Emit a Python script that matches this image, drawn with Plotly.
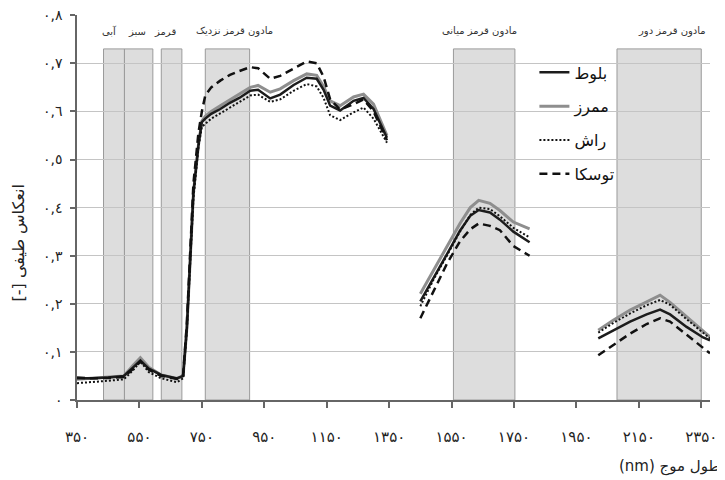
import plotly.graph_objects as go

# ---------------- data ----------------
# wavelength samples (nm) for the three measured segments
wl_vis_nir = [350, 400, 450, 500, 530, 553, 580, 620, 670, 690, 702, 723, 739, 750,
              761, 780, 809, 840, 870, 905, 930, 969, 1001, 1044, 1086, 1118, 1140,
              1161, 1193, 1236, 1268, 1300, 1343]
wl_swir1 = [1450, 1492, 1535, 1577, 1610, 1637, 1673, 1705, 1748, 1800]
wl_swir2 = [2020, 2068, 2122, 2175, 2218, 2250, 2303, 2356, 2378]

species = ["بلوط", "ممرز", "راش", "توسکا"]

oak_1 = [0.045, 0.045, 0.047, 0.050, 0.068, 0.082, 0.065, 0.052, 0.045, 0.050, 0.150, 0.430, 0.530, 0.578,
         0.585, 0.595, 0.605, 0.618, 0.628, 0.643, 0.645, 0.627, 0.635, 0.655, 0.670, 0.668, 0.645,
         0.612, 0.602, 0.622, 0.628, 0.605, 0.545]
oak_2 = [0.205, 0.255, 0.303, 0.352, 0.383, 0.395, 0.390, 0.375, 0.350, 0.328]
oak_3 = [0.128, 0.145, 0.163, 0.178, 0.188, 0.178, 0.152, 0.130, 0.124]

hornbeam_1 = [0.043, 0.045, 0.047, 0.050, 0.072, 0.088, 0.068, 0.052, 0.045, 0.050, 0.150, 0.430, 0.530, 0.580,
              0.590, 0.600, 0.612, 0.624, 0.635, 0.650, 0.654, 0.640, 0.647, 0.664, 0.678, 0.675, 0.652,
              0.622, 0.612, 0.630, 0.636, 0.615, 0.550]
hornbeam_2 = [0.221, 0.270, 0.318, 0.367, 0.400, 0.415, 0.409, 0.394, 0.370, 0.356]
hornbeam_3 = [0.145, 0.166, 0.187, 0.204, 0.218, 0.203, 0.173, 0.145, 0.131]

beech_1 = [0.035, 0.037, 0.040, 0.043, 0.062, 0.080, 0.058, 0.045, 0.037, 0.045, 0.145, 0.420, 0.525, 0.568,
           0.575, 0.585, 0.596, 0.608, 0.618, 0.633, 0.635, 0.620, 0.625, 0.643, 0.657, 0.652, 0.628,
           0.592, 0.582, 0.598, 0.608, 0.585, 0.535]
beech_2 = [0.195, 0.250, 0.300, 0.350, 0.385, 0.400, 0.397, 0.382, 0.358, 0.338]
beech_3 = [0.140, 0.160, 0.180, 0.197, 0.208, 0.198, 0.168, 0.140, 0.128]

alder_1 = [0.047, 0.045, 0.046, 0.048, 0.065, 0.080, 0.063, 0.050, 0.044, 0.052, 0.160, 0.450, 0.555, 0.600,
           0.633, 0.650, 0.664, 0.676, 0.684, 0.692, 0.690, 0.668, 0.674, 0.690, 0.704, 0.700, 0.672,
           0.625, 0.604, 0.615, 0.625, 0.600, 0.540]
alder_2 = [0.170, 0.225, 0.283, 0.330, 0.355, 0.367, 0.362, 0.353, 0.320, 0.300]
alder_3 = [0.093, 0.114, 0.138, 0.158, 0.170, 0.163, 0.135, 0.108, 0.097]

# spectral bands (nm)
band_names = ["آبی", "سبز", "قرمز", "مادون قرمز نزدیک", "مادون قرمز میانی", "مادون قرمز دور"]
band_start = [435, 502, 620, 761, 1556, 2080]
band_end = [502, 593, 686, 903, 1753, 2350]
band_top = 0.73

x_tickvals = [350, 550, 750, 950, 1150, 1350, 1550, 1750, 1950, 2150, 2350]
x_ticktext = ["۳۵۰", "۵۵۰", "۷۵۰", "۹۵۰", "۱۱۵۰", "۱۳۵۰", "۱۵۵۰", "۱۷۵۰", "۱۹۵۰", "۲۱۵۰", "۲۳۵۰"]
y_tickvals = [0, 0.1, 0.2, 0.3, 0.4, 0.5, 0.6, 0.7, 0.8]
y_ticktext = ["٠", "٠,١", "٠,٢", "٠,٣", "٠,٤", "٠,٥", "٠,٦", "٠,٧", "٠,٨"]


def joined(a, b, c):
    return list(a) + [None] + list(b) + [None] + list(c)


x_all = joined(wl_vis_nir, wl_swir1, wl_swir2)
series = [
    joined(oak_1, oak_2, oak_3),
    joined(hornbeam_1, hornbeam_2, hornbeam_3),
    joined(beech_1, beech_2, beech_3),
    joined(alder_1, alder_2, alder_3),
]

styles = [
    dict(color="#1c1c1c", width=2.5, dash="solid"),
    dict(color="#8e8e8e", width=3, dash="solid"),
    dict(color="#111111", width=2, dash="2px,2px"),
    dict(color="#111111", width=2.5, dash="8px,5px"),
]

FONT = "DejaVu Sans"

fig = go.Figure()
draw_order = [1, 0, 2, 3]
for i in draw_order:
    fig.add_trace(go.Scatter(
        x=x_all, y=series[i], mode="lines", name=species[i],
        line=styles[i], connectgaps=False, legendgroup=f"g{i}",
        legendrank=i + 1, hoverinfo="skip",
    ))

# bands
for s, e in zip(band_start, band_end):
    fig.add_shape(type="rect", xref="x", yref="y", x0=s, x1=e, y0=0, y1=band_top,
                  fillcolor="#dddddd", line=dict(color="#9a9a9a", width=1), layer="below")

label_x = [453, 543, 633, 854, 1638, 2256]
for name, lx in zip(band_names, label_x):
    fig.add_annotation(x=lx, y=0.767, xref="x", yref="y", text=name, showarrow=False,
                       font=dict(family=FONT, size=10, color="#333333"))

# axis titles
fig.add_annotation(xref="paper", yref="paper", x=-0.093, y=0.407, xanchor="center", yanchor="middle",
                   text="[-] انعکاس طیفی", textangle=-90, showarrow=False,
                   font=dict(family=FONT, size=16, color="#222222"))
fig.add_annotation(xref="paper", yref="paper", x=1.019, y=-0.174, xanchor="right", yanchor="middle",
                   text="(nm) طول موج", showarrow=False,
                   font=dict(family=FONT, size=15, color="#222222"))

fig.update_layout(
    width=725, height=480,
    margin=dict(l=69, r=23, t=6.5, b=88, autoexpand=False),
    paper_bgcolor="white", plot_bgcolor="white",
    showlegend=True,
    legend=dict(x=0.7226, y=0.895, xanchor="left", yanchor="top",
                bgcolor="rgba(0,0,0,0)", borderwidth=0, tracegroupgap=10,
                font=dict(family=FONT, size=16, color="#111111")),
    font=dict(family=FONT, color="#222222"),
)
fig.update_xaxes(range=[350, 2378], tickvals=x_tickvals, ticktext=x_ticktext, automargin=False,
                 showgrid=False, zeroline=False, showline=True, linecolor="#666666", linewidth=1.5,
                 ticks="outside", ticklen=6, tickcolor="#666666", tickwidth=1.5,
                 ticklabeloverflow="allow",
                 ticklabelstandoff=16, tickfont=dict(family=FONT, size=15, color="#222222"))
fig.update_yaxes(range=[0, 0.8005], tickvals=y_tickvals, ticktext=y_ticktext, automargin=False,
                 showgrid=True, gridcolor="#c4c4c4", gridwidth=1, zeroline=False,
                 showline=True, linecolor="#666666", linewidth=1.5,
                 ticks="outside", ticklen=5, tickcolor="#666666", tickwidth=1.5,
                 ticklabeloverflow="allow",
                 ticklabelstandoff=5, tickfont=dict(family=FONT, size=14, color="#222222"))

fig.write_html("out.html")
